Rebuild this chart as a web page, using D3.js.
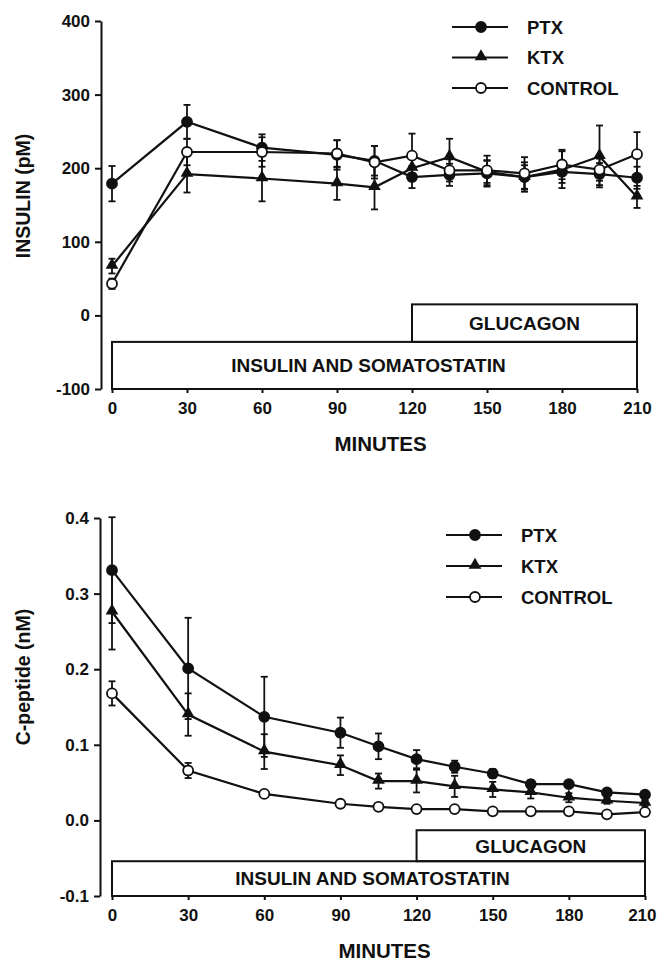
<!DOCTYPE html>
<html lang="en">
<head>
<meta charset="UTF-8">
<title>Insulin and C-peptide</title>
<script src="https://cdn.jsdelivr.net/npm/d3@7"></script>
<style>
  body { margin: 0; background: #fff; }
  svg text { font-family: "Liberation Sans", Arial, Helvetica, sans-serif; font-weight: bold; fill: #111; }
</style>
</head>
<body>
<script>
// time points (minutes)
var minutes = [0, 30, 60, 90, 105, 120, 135, 150, 165, 180, 195, 210];
var groups = ["PTX", "KTX", "CONTROL"];

// insulin (pM), mean and error
var insPTX = [179, 263, 228, 218, 210, 188, 191, 193, 188, 195, 192, 187];
var insPTXerr = [24, 23, 18, 20, 20, 15, 15, 18, 16, 15, 15, 15];
var insKTX = [67, 192, 186, 179, 174, 200, 215, 195, 188, 198, 216, 161];
var insKTXerr = [10, 25, 31, 22, 30, 15, 25, 15, 20, 25, 42, 15];
var insCON = [43, 222, 222, 220, 208, 217, 197, 197, 193, 205, 198, 219];
var insCONerr = [7, 18, 20, 18, 22, 30, 15, 20, 22, 20, 15, 30];

// C-peptide (nM), mean and error
var cpPTX = [0.331, 0.201, 0.137, 0.116, 0.098, 0.081, 0.071, 0.062, 0.048, 0.048, 0.037, 0.034];
var cpPTXerr = [0.07, 0.067, 0.053, 0.02, 0.017, 0.012, 0.008, 0.006, 0.005, 0.004, 0.003, 0.003];
var cpKTX = [0.276, 0.14, 0.091, 0.073, 0.052, 0.052, 0.045, 0.041, 0.037, 0.03, 0.026, 0.023];
var cpKTXerr = [0.05, 0.028, 0.023, 0.013, 0.01, 0.015, 0.014, 0.01, 0.008, 0.006, 0.004, 0.004];
var cpCON = [0.168, 0.066, 0.035, 0.022, 0.018, 0.015, 0.015, 0.012, 0.012, 0.012, 0.008, 0.011];
var cpCONerr = [0.016, 0.01, 0.004, 0.002, 0.002, 0.002, 0.002, 0.002, 0.002, 0.002, 0.002, 0.002];

var xTicks = [0, 30, 60, 90, 120, 150, 180, 210];
var insTicks = [-100, 0, 100, 200, 300, 400];
var cpTicks = [-0.1, 0.0, 0.1, 0.2, 0.3, 0.4];

// infusion bars: [start, end, bottom, top] per panel
var insBoxes = [
  {label: "INSULIN AND SOMATOSTATIN", t0: 0, t1: 210, lo: -100, hi: -36},
  {label: "GLUCAGON", t0: 120, t1: 210, lo: -36, hi: 15}
];
var cpBoxes = [
  {label: "INSULIN AND SOMATOSTATIN", t0: 0, t1: 210, lo: -0.1, hi: -0.054},
  {label: "GLUCAGON", t0: 120, t1: 210, lo: -0.054, hi: -0.013}
];

var W = 657, H = 963;
var svg = d3.select("body").append("svg").attr("width", W).attr("height", H);

function panel(opt) {
  var x = d3.scaleLinear().domain([0, 210]).range(opt.xr);
  var y = d3.scaleLinear().domain([opt.ticks[0], opt.ticks[opt.ticks.length - 1]]).range(opt.yr);
  var g = svg.append("g");

  // infusion boxes
  opt.boxes.forEach(function(b) {
    g.append("rect")
      .attr("x", x(b.t0)).attr("y", y(b.hi))
      .attr("width", x(b.t1) - x(b.t0)).attr("height", y(b.lo) - y(b.hi))
      .attr("fill", "none").attr("stroke", "#111").attr("stroke-width", 2);
    g.append("text")
      .attr("x", (x(b.t0) + x(b.t1)) / 2 - (b.t0 == 0 ? 6 : 0))
      .attr("y", (y(b.lo) + y(b.hi)) / 2)
      .attr("dy", "0.36em").attr("text-anchor", "middle")
      .attr("font-size", 19).text(b.label);
  });

  // axes
  var ya = g.append("g").attr("transform", "translate(" + opt.yAxisX + ",0)")
    .call(d3.axisLeft(y).tickValues(opt.ticks).tickSize(6).tickSizeOuter(0).tickPadding(5).tickFormat(opt.fmt));
  var xa = g.append("g").attr("transform", "translate(0," + opt.yr[0] + ")")
    .call(d3.axisBottom(x).tickValues(xTicks).tickSize(4).tickSizeOuter(0).tickPadding(9).tickFormat(function(d) { return d; }));
  [ya, xa].forEach(function(a) {
    a.selectAll("path, line").attr("stroke", "#111").attr("stroke-width", 2);
    a.selectAll("text").attr("font-size", 17).attr("font-family", null).attr("fill", "#111");
  });
  xa.select(".domain").remove();
  // keep the last label inside the page
  xa.selectAll(".tick text").filter(function(d) { return x(d) + 16 > W; })
    .attr("text-anchor", "end").attr("x", W - 1 - x(210));

  g.append("text").attr("x", x(105) + 6).attr("y", opt.yr[0] + 62)
    .attr("text-anchor", "middle").attr("font-size", 20.5).text("MINUTES");
  g.append("text")
    .attr("transform", "translate(" + 30 + "," + opt.titleY + ") rotate(-90)")
    .attr("text-anchor", "middle").attr("font-size", 19.5).text(opt.title);

  // series
  var line = d3.line().x(function(d) { return x(d.t); }).y(function(d) { return y(d.v); });
  opt.series.forEach(function(s, si) {
    var pts = minutes.map(function(t, i) { return {t: t, v: s.v[i], e: s.e[i]}; });
    var sg = g.append("g");
    sg.selectAll("line.err").data(pts).enter().append("line")
      .attr("x1", function(d) { return x(d.t); }).attr("x2", function(d) { return x(d.t); })
      .attr("y1", function(d) { return y(d.v - d.e); }).attr("y2", function(d) { return y(d.v + d.e); })
      .attr("stroke", "#111").attr("stroke-width", 1.8);
    [-1, 1].forEach(function(sgn) {
      sg.selectAll("line.cap" + sgn).data(pts).enter().append("line")
        .attr("x1", function(d) { return x(d.t) - 3.5; }).attr("x2", function(d) { return x(d.t) + 3.5; })
        .attr("y1", function(d) { return y(d.v + sgn * d.e); }).attr("y2", function(d) { return y(d.v + sgn * d.e); })
        .attr("stroke", "#111").attr("stroke-width", 1.8);
    });
    sg.append("path").datum(pts).attr("d", line)
      .attr("fill", "none").attr("stroke", "#111").attr("stroke-width", 2.2);
    marker(sg, pts.map(function(d) { return [x(d.t), y(d.v)]; }), si);
  });

  // legend
  groups.forEach(function(name, i) {
    var ly = opt.legY + i * opt.legGap;
    g.append("line").attr("x1", opt.legX).attr("x2", opt.legX + 56)
      .attr("y1", ly).attr("y2", ly).attr("stroke", "#111").attr("stroke-width", 2);
    marker(g, [[opt.legX + 29, ly]], i);
    g.append("text").attr("x", opt.legX + 75).attr("y", ly).attr("dy", "0.36em")
      .attr("font-size", 18.5).text(name);
  });
}

function marker(sel, xy, kind) {
  if (kind == 1) {
    sel.selectAll(null).data(xy).enter().append("path")
      .attr("d", d3.symbol(d3.symbolTriangle, 70))
      .attr("transform", function(d) { return "translate(" + d[0] + "," + (d[1] - 1) + ")"; })
      .attr("fill", "#111");
  } else {
    sel.selectAll(null).data(xy).enter().append("circle")
      .attr("cx", function(d) { return d[0]; }).attr("cy", function(d) { return d[1]; })
      .attr("r", 5)
      .attr("fill", kind == 0 ? "#111" : "#fff")
      .attr("stroke", "#111").attr("stroke-width", 1.8);
  }
}

panel({
  xr: [112, 637], yr: [389, 21], yAxisX: 101, ticks: insTicks,
  fmt: function(d) { return String(d); },
  boxes: insBoxes, title: "INSULIN (pM)", titleY: 196,
  legX: 452, legY: 27, legGap: 30.5,
  series: [{v: insPTX, e: insPTXerr}, {v: insKTX, e: insKTXerr}, {v: insCON, e: insCONerr}]
});

panel({
  xr: [112, 645], yr: [896, 518], yAxisX: 100, ticks: cpTicks,
  fmt: function(d) { return d.toFixed(1); },
  boxes: cpBoxes, title: "C-peptide (nM)", titleY: 677,
  legX: 446, legY: 535, legGap: 31,
  series: [{v: cpPTX, e: cpPTXerr}, {v: cpKTX, e: cpKTXerr}, {v: cpCON, e: cpCONerr}]
});
</script>
</body>
</html>
